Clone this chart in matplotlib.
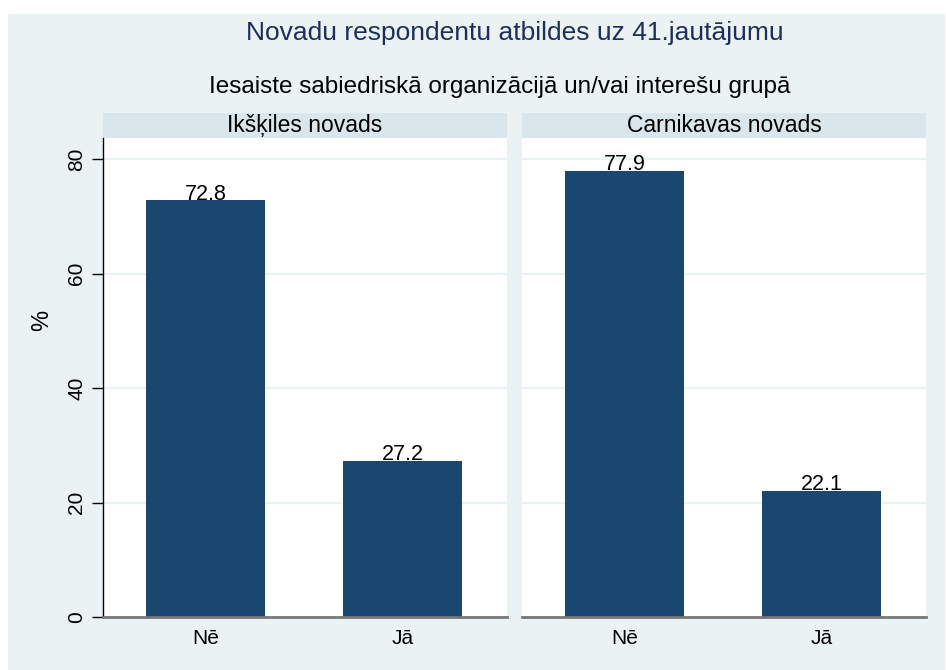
import matplotlib
import matplotlib.pyplot as plt
from matplotlib.patches import Rectangle

matplotlib.use("Agg")

# data
panels = ["Ikšķiles novads", "Carnikavas novads"]
categories = ["Nē", "Jā"]
values = {
    "Ikšķiles novads": [72.8, 27.2],
    "Carnikavas novads": [77.9, 22.1],
}
yticks = [0, 20, 40, 60, 80]

BAR = "#1A476F"
OUTER_BG = "#EAF2F3"
HEADER_BG = "#D9E6EB"
TITLE = "#1E2F5C"

plt.rcParams.update({
    "font.family": ["Liberation Sans", "DejaVu Sans"],
    "font.size": 12.5,
})

W, H = 946, 670
fig = plt.figure(figsize=(W / 100, H / 100), dpi=100, facecolor="white")

# outer shaded region
fig.patches.append(Rectangle((8 / W, 0), (945 - 8) / W, (H - 14) / H,
                             transform=fig.transFigure, facecolor=OUTER_BG,
                             edgecolor="none", zorder=-2))

fig.text(515 / W, 1 - 33 / H, "Novadu respondentu atbildes uz 41.jautājumu",
         ha="center", va="center", fontsize=19, color=TITLE)
fig.text(500 / W, 1 - 87 / H, "Iesaiste sabiedriskā organizācijā un/vai interešu grupā",
         ha="center", va="center", fontsize=17.5, color="black")
fig.text(42 / W, 1 - 320 / H, "%", rotation=90, ha="center", va="center",
         fontsize=17)

plot_bottom, plot_top = 617, 138
header_top = 113
lefts = [103, 522]
width = 404

for i, (panel, left) in enumerate(zip(panels, lefts)):
    ax = fig.add_axes([left / W, (H - plot_bottom) / H, width / W,
                       (plot_bottom - plot_top) / H])
    ax.set_zorder(1)
    ax.set_facecolor("white")
    x = range(len(categories))
    bars = ax.bar(x, values[panel], width=0.604, color=BAR, zorder=3)
    for bar, v in zip(bars, values[panel]):
        ax.text(bar.get_x() + bar.get_width() / 2, v + 0.15, f"{v:.1f}",
                ha="center", va="baseline", fontsize=15.5, zorder=4)

    ax.set_xlim(-0.522, 1.528)
    ax.set_ylim(0, 83.7)
    ax.set_yticks(yticks)
    ax.grid(axis="y", color=OUTER_BG, linewidth=1.6, zorder=1)
    ax.set_axisbelow(True)
    ax.set_xticks(list(x))
    ax.set_xticklabels(categories, fontsize=15)
    ax.tick_params(axis="x", length=0, pad=9)

    for side in ["top", "right"]:
        ax.spines[side].set_visible(False)
    ax.spines["bottom"].set_color("#777777")
    ax.spines["bottom"].set_linewidth(2)
    ax.spines["bottom"].set_zorder(5)

    if i == 0:
        ax.spines["left"].set_color("black")
        ax.spines["left"].set_linewidth(1)
        ax.tick_params(axis="y", length=8, width=1, pad=4)
        ax.set_yticklabels([str(t) for t in yticks], rotation=90, va="center",
                           fontsize=15)
    else:
        ax.spines["left"].set_visible(False)
        ax.tick_params(axis="y", length=0, labelleft=False)

    # panel header strip
    fig.patches.append(Rectangle((left / W, (H - plot_top) / H), width / W,
                                 (plot_top - header_top) / H,
                                 transform=fig.transFigure, facecolor=HEADER_BG,
                                 edgecolor="none", zorder=-1))
    fig.text((left + width / 2) / W, 1 - (header_top + plot_top) / 2 / H, panel,
             ha="center", va="center", fontsize=16.5)

fig.savefig("out.png", dpi=100, facecolor="white")
